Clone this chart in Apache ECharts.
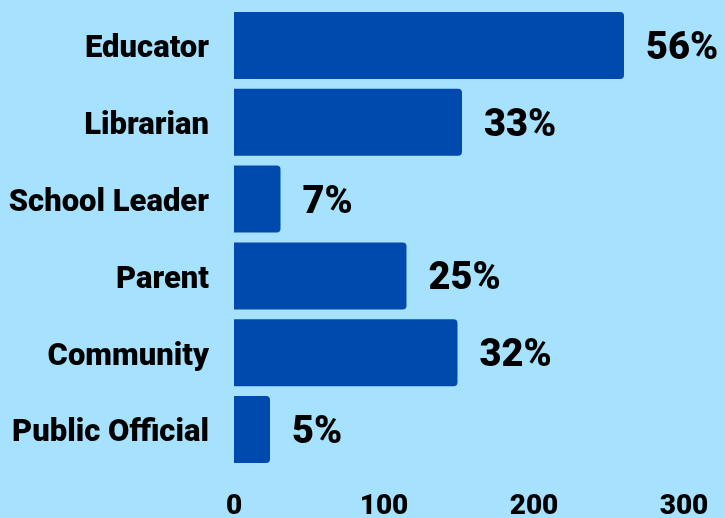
<!DOCTYPE html>
<html>
<head>
<meta charset="utf-8">
<script src="https://cdn.jsdelivr.net/npm/echarts@6/dist/echarts.min.js"></script>
<style>
  html, body { margin: 0; padding: 0; background: #a6e1fe; }
  #chart { width: 725px; height: 518px; }
</style>
</head>
<body>
<div id="chart"></div>
<script>
// 类别（从上到下）
var categories = ['Educator', 'Librarian', 'School Leader', 'Parent', 'Community', 'Public Official'];
// 人数
var counts = [260, 152, 31, 115, 149, 24];
// 百分比标签
var percents = ['56%', '33%', '7%', '25%', '32%', '5%'];
// x 轴刻度
var xTicks = [0, 100, 200, 300];

var chart = echarts.init(document.getElementById('chart'));

var option = {
    backgroundColor: '#a6e1fe',
    animation: false,
    grid: {
        left: 234,
        right: 41,
        top: 7,
        bottom: 50,
        containLabel: false,
        outerBoundsMode: 'none'
    },
    xAxis: {
        type: 'value',
        min: xTicks[0],
        max: xTicks[xTicks.length - 1],
        interval: 100,
        axisLine: { show: false },
        axisTick: { show: false },
        splitLine: { show: false },
        axisLabel: {
            margin: 25,
            color: '#000',
            fontFamily: 'Roboto, sans-serif',
            fontWeight: 900,
            fontSize: 28
        }
    },
    yAxis: {
        type: 'category',
        inverse: true,
        data: categories,
        axisLine: { show: false },
        axisTick: { show: false },
        axisLabel: {
            margin: 25,
            // 用 rich 文本把标签往下挪一点
            formatter: function (v) {
                return '{a|' + v + '}';
            },
            rich: {
                a: {
                    color: '#000',
                    fontFamily: 'Roboto, sans-serif',
                    fontWeight: 900,
                    fontSize: 31,
                    lineHeight: 31,
                    padding: [8, 0, 0, 0]
                }
            }
        }
    },
    series: [{
        type: 'bar',
        data: counts,
        barWidth: 67,
        itemStyle: {
            color: '#004aad',
            borderRadius: [0, 4, 4, 0]
        },
        label: {
            show: true,
            position: 'right',
            distance: 22,
            offset: [0, 4],
            color: '#000',
            fontFamily: 'Roboto, sans-serif',
            fontWeight: 900,
            fontSize: 38,
            formatter: function (p) {
                return percents[p.dataIndex];
            }
        }
    }]
};

chart.setOption(option);
</script>
</body>
</html>
